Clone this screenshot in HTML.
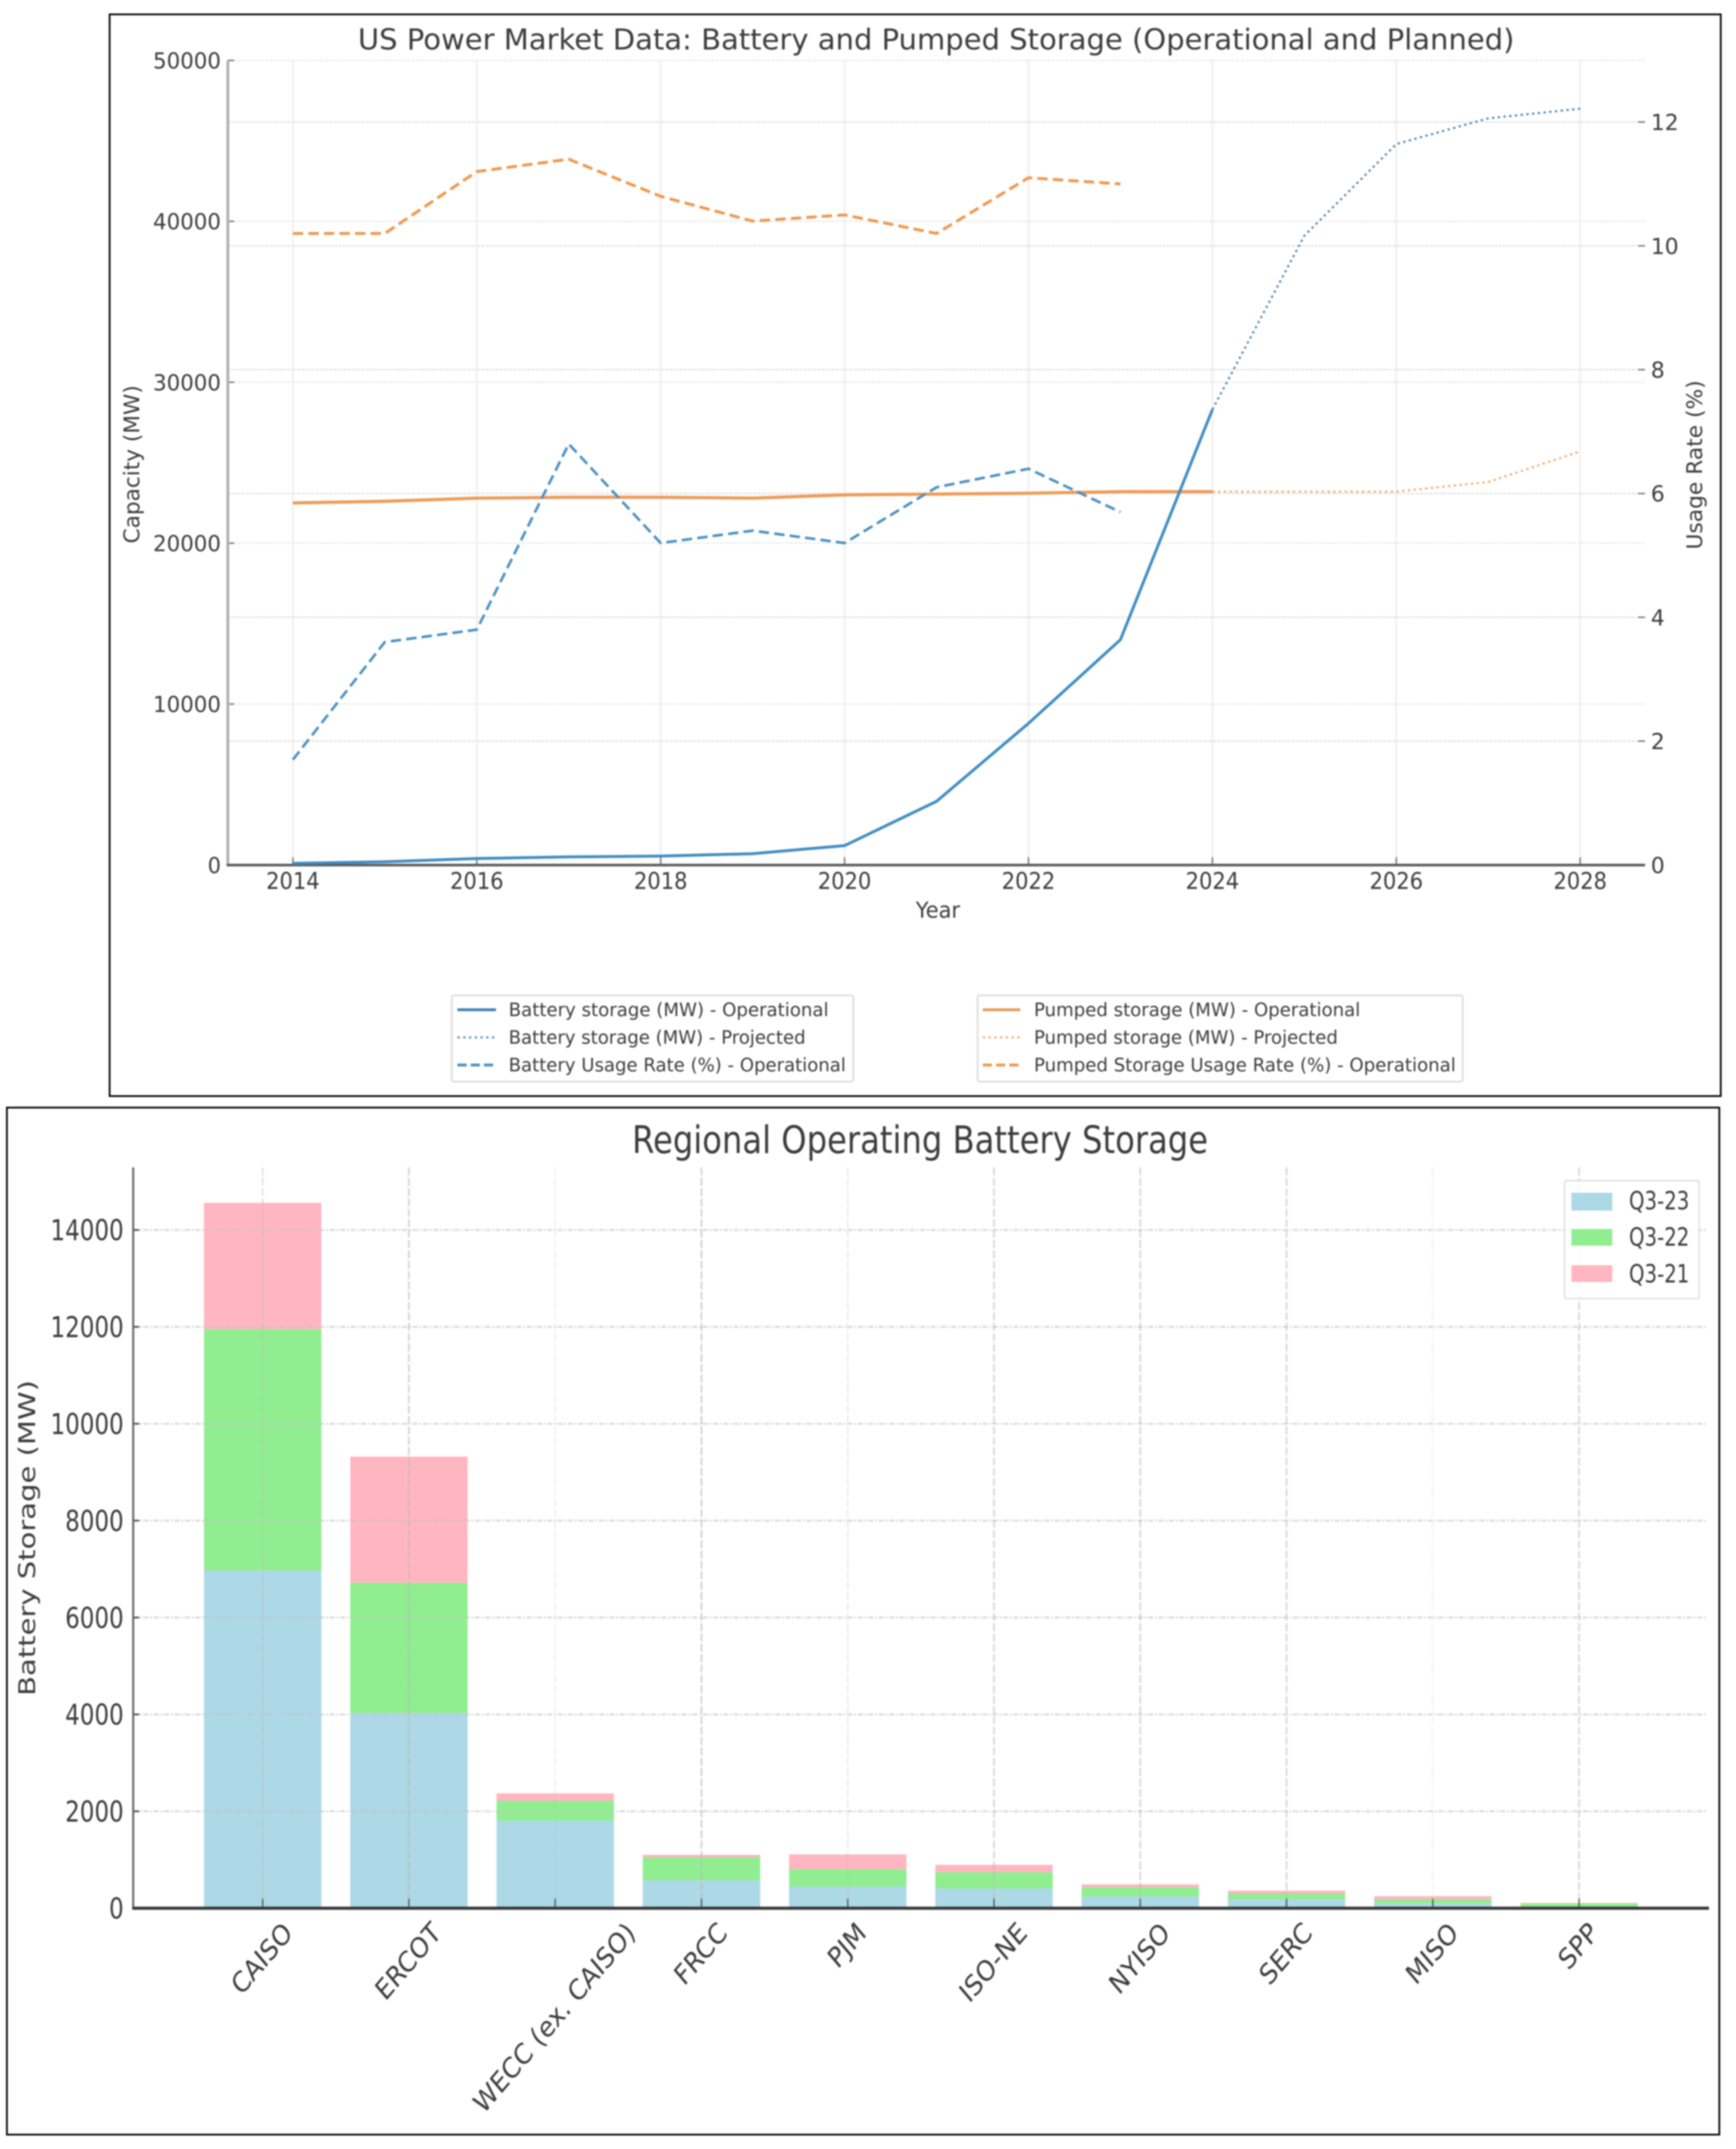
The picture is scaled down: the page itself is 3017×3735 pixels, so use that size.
<!DOCTYPE html>
<html lang="en">
<head>
<meta charset="utf-8">
<title>US Power Market Data and Regional Battery Storage</title>
<style>
html,body{margin:0;padding:0;background:#fff;width:3017px;height:3735px;overflow:hidden}
svg{display:block;filter:blur(1.4px)}
text{font-family:"DejaVu Sans","Liberation Sans",sans-serif;fill:#3c3c3c}
</style>
</head>
<body>
<svg id="page" xmlns="http://www.w3.org/2000/svg" width="3017" height="3735" viewBox="0 0 3017 3735">
  <rect width="3017" height="3735" fill="#fff"/>

  <g id="top-chart">
    <rect x="190.5" y="25" width="2800" height="1880" fill="#fff" stroke="#000" stroke-width="3"/>
    <g id="top-grid"></g>
    <g id="top-axes"></g>
    <g id="top-series"></g>
    <text x="622" y="86" font-size="50" textLength="2010" lengthAdjust="spacingAndGlyphs" fill="#444">US Power Market Data: Battery and Pumped Storage (Operational and Planned)</text>
    <text x="1630" y="1595" font-size="38" text-anchor="middle" textLength="77" lengthAdjust="spacingAndGlyphs">Year</text>
    <text transform="translate(242,807) rotate(-90)" font-size="37" text-anchor="middle" textLength="275" lengthAdjust="spacingAndGlyphs">Capacity (MW)</text>
    <text transform="translate(2958,808) rotate(-90)" font-size="37" text-anchor="middle" textLength="294" lengthAdjust="spacingAndGlyphs">Usage Rate (%)</text>

    <g>
      <rect x="785" y="1730" width="698" height="150" rx="4" fill="#fff" stroke="#ddd" stroke-width="3"/>
      <line x1="795" x2="862" y1="1755" y2="1755" stroke="#3f84b6" stroke-width="5"/>
      <line x1="795" x2="862" y1="1803" y2="1803" stroke="#4b93c6" stroke-width="3.5" stroke-dasharray="4 6"/>
      <line x1="795" x2="862" y1="1851" y2="1851" stroke="#4b93c6" stroke-width="5" stroke-dasharray="16 7"/>
      <text x="884" y="1766" font-size="32" textLength="556" lengthAdjust="spacingAndGlyphs">Battery storage (MW) - Operational</text>
      <text x="884" y="1814" font-size="32" textLength="516" lengthAdjust="spacingAndGlyphs">Battery storage (MW) - Projected</text>
      <text x="884" y="1862" font-size="32" textLength="586" lengthAdjust="spacingAndGlyphs">Battery Usage Rate (%) - Operational</text>
    </g>
    <g>
      <rect x="1699" y="1730" width="843" height="150" rx="4" fill="#fff" stroke="#ddd" stroke-width="3"/>
      <line x1="1708" x2="1773" y1="1755" y2="1755" stroke="#e89a58" stroke-width="5"/>
      <line x1="1708" x2="1773" y1="1803" y2="1803" stroke="#f2a86a" stroke-width="3.5" stroke-dasharray="4 6"/>
      <line x1="1708" x2="1773" y1="1851" y2="1851" stroke="#f2974a" stroke-width="5" stroke-dasharray="16 7"/>
      <text x="1797" y="1766" font-size="32" textLength="567" lengthAdjust="spacingAndGlyphs">Pumped storage (MW) - Operational</text>
      <text x="1797" y="1814" font-size="32" textLength="528" lengthAdjust="spacingAndGlyphs">Pumped storage (MW) - Projected</text>
      <text x="1797" y="1862" font-size="32" textLength="733" lengthAdjust="spacingAndGlyphs">Pumped Storage Usage Rate (%) - Operational</text>
    </g>
  </g>

  <g id="bottom-chart">
    <rect x="12" y="1925" width="2976" height="1785" fill="#fff" stroke="#000" stroke-width="3"/>
    <text x="1599" y="2004" font-size="66" text-anchor="middle" textLength="1001" lengthAdjust="spacingAndGlyphs" fill="#444">Regional Operating Battery Storage</text>
    <text transform="translate(61,2673) rotate(-90)" font-size="40" text-anchor="middle" textLength="549" lengthAdjust="spacingAndGlyphs">Battery Storage (MW)</text>
    <g id="bars"></g>
    <g id="bottom-grid"></g>
    <g id="bottom-axes"></g>
    <g>
      <rect x="2719" y="2052" width="234" height="205" rx="4" fill="#fff" fill-opacity="0.85" stroke="#e3e3e3" stroke-width="3"/>
      <rect x="2731" y="2073" width="71" height="31" fill="#add8e6"/>
      <rect x="2731" y="2136" width="71" height="29" fill="#90ee90"/>
      <rect x="2731" y="2199" width="71" height="29" fill="#ffb6c1"/>
      <text transform="translate(2831,2102) scale(0.78,1)" font-size="44">Q3-23</text>
      <text transform="translate(2831,2165) scale(0.78,1)" font-size="44">Q3-22</text>
      <text transform="translate(2831,2229) scale(0.78,1)" font-size="44">Q3-21</text>
    </g>
  </g>
</svg>

<script>
// ---- Top chart data ----
const operationalYears = [2014, 2015, 2016, 2017, 2018, 2019, 2020, 2021, 2022, 2023, 2024];
const projectedYears = [2024, 2025, 2026, 2027, 2028];
const usageYears = [2014, 2015, 2016, 2017, 2018, 2019, 2020, 2021, 2022, 2023];
const batteryOperational = [100, 200, 400, 500, 550, 700, 1200, 3950, 8800, 14000, 28300];
const batteryProjected = [28300, 39100, 44800, 46400, 47000];
const batteryUsage = [1.7, 3.6, 3.8, 6.8, 5.2, 5.4, 5.2, 6.1, 6.4, 5.7];
const pumpedOperational = [22500, 22600, 22800, 22850, 22850, 22800, 23000, 23050, 23100, 23200, 23200];
const pumpedProjected = [23200, 23200, 23200, 23800, 25700];
const pumpedUsage = [10.2, 10.2, 11.2, 11.4, 10.8, 10.4, 10.5, 10.2, 11.1, 11.0];
const yearTicks = [2014, 2016, 2018, 2020, 2022, 2024, 2026, 2028];
const capacityTicks = [0, 10000, 20000, 30000, 40000, 50000];
const usageTicks = [0, 2, 4, 6, 8, 10, 12];

// ---- Bottom chart data ----
const regions = ["CAISO", "ERCOT", "WECC (ex. CAISO)", "FRCC", "PJM", "ISO-NE", "NYISO", "SERC", "MISO", "SPP"];
const q323 = [6970, 4030, 1810, 575, 445, 408, 243, 184, 100, 5];
const q322 = [4980, 2685, 405, 475, 360, 337, 190, 119, 78, 93];
const q321 = [2610, 2605, 155, 53, 305, 150, 60, 60, 70, 12];
const mwTicks = [0, 2000, 4000, 6000, 8000, 10000, 12000, 14000];
const regionGridAlpha = [0.4, 0.6, 0.18, 0.65, 0.25, 0.55, 0.55, 0.55, 0.16, 0.55];

// ---- Axis functions ----
function xYear(y) { return 509 + (y - 2014) * 159.8; }
function yCapacity(v) { return 1503.3 - v * 0.027966; }
function yUsage(v) { return 1503.3 - v * 0.1076 * 1000; }
function xRegion(i) { return 456.5 + 254.2 * i; }
function yMW(v) { return 3316.5 - v * 0.0842; }

const NS = "http://www.w3.org/2000/svg";
function mk(parent, tag, attrs, txt) {
  const el = document.createElementNS(NS, tag);
  for (const k in attrs) el.setAttribute(k, attrs[k]);
  if (txt !== undefined) el.textContent = txt;
  parent.appendChild(el);
  return el;
}
const $ = id => document.getElementById(id);

// ---- Top grid and axes ----
const topGrid = $("top-grid"), topAxes = $("top-axes"), topSeries = $("top-series");
yearTicks.forEach(t => {
  const g = mk(topGrid, "line", {x1: xYear(t), x2: xYear(t), y1: 105, y2: 1503, stroke: "#ececec", "stroke-width": 2.5});
  
  
  const k = mk(topAxes, "line", {x1: xYear(t), x2: xYear(t), y1: 1490, y2: 1503, stroke: "#777", "stroke-width": 2.5});
  
  
  const l = mk(topAxes, "text", {x: xYear(t), y: 1545, "font-size": 40, "text-anchor": "middle", textLength: 93, lengthAdjust: "spacingAndGlyphs"}, String(t));
  
  
});
capacityTicks.forEach(t => {
  const y = yCapacity(t);
  const g = mk(topGrid, "line", {x1: 396, x2: 2859, y1: y, y2: y, stroke: "#eeeeee", "stroke-width": 3, "stroke-dasharray": "6 2"});
  
  
  const k = mk(topAxes, "line", {x1: 396, x2: 407, y1: y, y2: y, stroke: "#777", "stroke-width": 2.5});
  
  
  const l = mk(topAxes, "text", {x: 384, y: y + 14, "font-size": 38, "text-anchor": "end", textLength: t === 0 ? 23 : 118, lengthAdjust: "spacingAndGlyphs"}, String(t));
  
  
});
usageTicks.forEach(t => {
  const y = yUsage(t);
  const g = mk(topGrid, "line", {x1: 396, x2: 2859, y1: y, y2: y, stroke: "#e2e2e2", "stroke-width": 2.5, "stroke-dasharray": "6 2"});
  
  
  const k = mk(topAxes, "line", {x1: 2847, x2: 2859, y1: y, y2: y, stroke: "#777", "stroke-width": 2.5});
  
  
  const l = mk(topAxes, "text", {x: 2869, y: y + 14, "font-size": 38}, String(t));
  
  
});
const leftSpine = mk(topAxes, "line", {x1: 396, x2: 396, y1: 105, y2: 1505, stroke: "#b0b0b0", "stroke-width": 5});


const bottomSpine = mk(topAxes, "line", {x1: 394, x2: 2859, y1: 1503.5, y2: 1503.5, stroke: "#5a5a5a", "stroke-width": 4.5});



// ---- Top series ----
function seriesPoints(xs, vs, yFn) {
  return vs.map((v, i) => xYear(xs[i]).toFixed(1) + "," + yFn(v).toFixed(1)).join(" ");
}
function drawSeries(xs, vs, yFn, stroke, width, dash) {
  const attrs = {points: seriesPoints(xs, vs, yFn), fill: "none", stroke: stroke, "stroke-width": width, "stroke-linejoin": "round"};
  if (dash) attrs["stroke-dasharray"] = dash;
  return mk(topSeries, "polyline", attrs);
}
let s;
s = drawSeries(operationalYears, pumpedOperational, yCapacity, "#ee9a55", 5.5);


s = drawSeries(projectedYears, pumpedProjected, yCapacity, "#f2a86a", 3.5, "4 6");


s = drawSeries(usageYears, pumpedUsage, yUsage, "#f0964c", 5, "18 9");


s = drawSeries(usageYears, batteryUsage, yUsage, "#4b8fbf", 4.5, "18 9");


s = drawSeries(operationalYears, batteryOperational, yCapacity, "#3f8cc2", 5);


s = drawSeries(projectedYears, batteryProjected, yCapacity, "#4b86b0", 3.5, "4 6");



// ---- Bottom chart ----
const barsG = $("bars"), botGrid = $("bottom-grid"), botAxes = $("bottom-axes");
const barWidth = 204;
const stackSeries = [
  {key: "q3-23", values: q323, color: "#add8e6"},
  {key: "q3-22", values: q322, color: "#90ee90"},
  {key: "q3-21", values: q321, color: "#ffb6c1"}
];
regions.forEach((name, i) => {
  let base = 0;
  stackSeries.forEach(sr => {
    const v = sr.values[i];
    const r = mk(barsG, "rect", {x: xRegion(i) - barWidth / 2, y: yMW(base + v), width: barWidth, height: yMW(base) - yMW(base + v), fill: sr.color});
    
    
    base += v;
  });
});
mwTicks.forEach(t => {
  const y = yMW(t);
  if (t > 0) {
    const g = mk(botGrid, "line", {x1: 231, x2: 2966, y1: y, y2: y, stroke: "#c4c4c4", "stroke-opacity": 0.6, "stroke-width": 3.5, "stroke-dasharray": "9 3 3 3"});
    
    
  }
  const k = mk(botAxes, "line", {x1: 231, x2: 242, y1: y, y2: y, stroke: "#555", "stroke-width": 3});
  
  
  const l = mk(botAxes, "text", {transform: "translate(215," + (y + 18) + ") scale(0.8,1)", "font-size": 50, "text-anchor": "end"}, String(t));
  
  
});
regions.forEach((name, i) => {
  const x = xRegion(i);
  const g = mk(botGrid, "line", {x1: x, x2: x, y1: 2029, y2: 3316, stroke: "#b8b8b8", "stroke-opacity": regionGridAlpha[i], "stroke-width": 3, "stroke-dasharray": "14 4"});
  
  
  const k = mk(botAxes, "line", {x1: x, x2: x, y1: 3300, y2: 3316, stroke: "#333", "stroke-width": 2.5, "stroke-opacity": 0.7});
  
  
  const fs = 49;
  const l = mk(botAxes, "text", {"font-size": fs, "text-anchor": "middle"}, name);
  
  
  const len = l.getComputedTextLength();
  const half = (len + fs * 0.8) * 0.7071 / 2;
  const cy = 3336 + half;
  l.setAttribute("transform", "translate(" + (x - 2).toFixed(1) + "," + cy.toFixed(1) + ") scale(0.85,1) rotate(-45) translate(0," + (fs * 0.36) + ")");
});
const botY = mk(botAxes, "line", {x1: 231.5, x2: 231.5, y1: 2029, y2: 3318, stroke: "#666", "stroke-width": 3.5});


const botX = mk(botAxes, "line", {x1: 230, x2: 2970, y1: 3316.5, y2: 3316.5, stroke: "#3a3a3a", "stroke-width": 5.5});


</script>
</body>
</html>
